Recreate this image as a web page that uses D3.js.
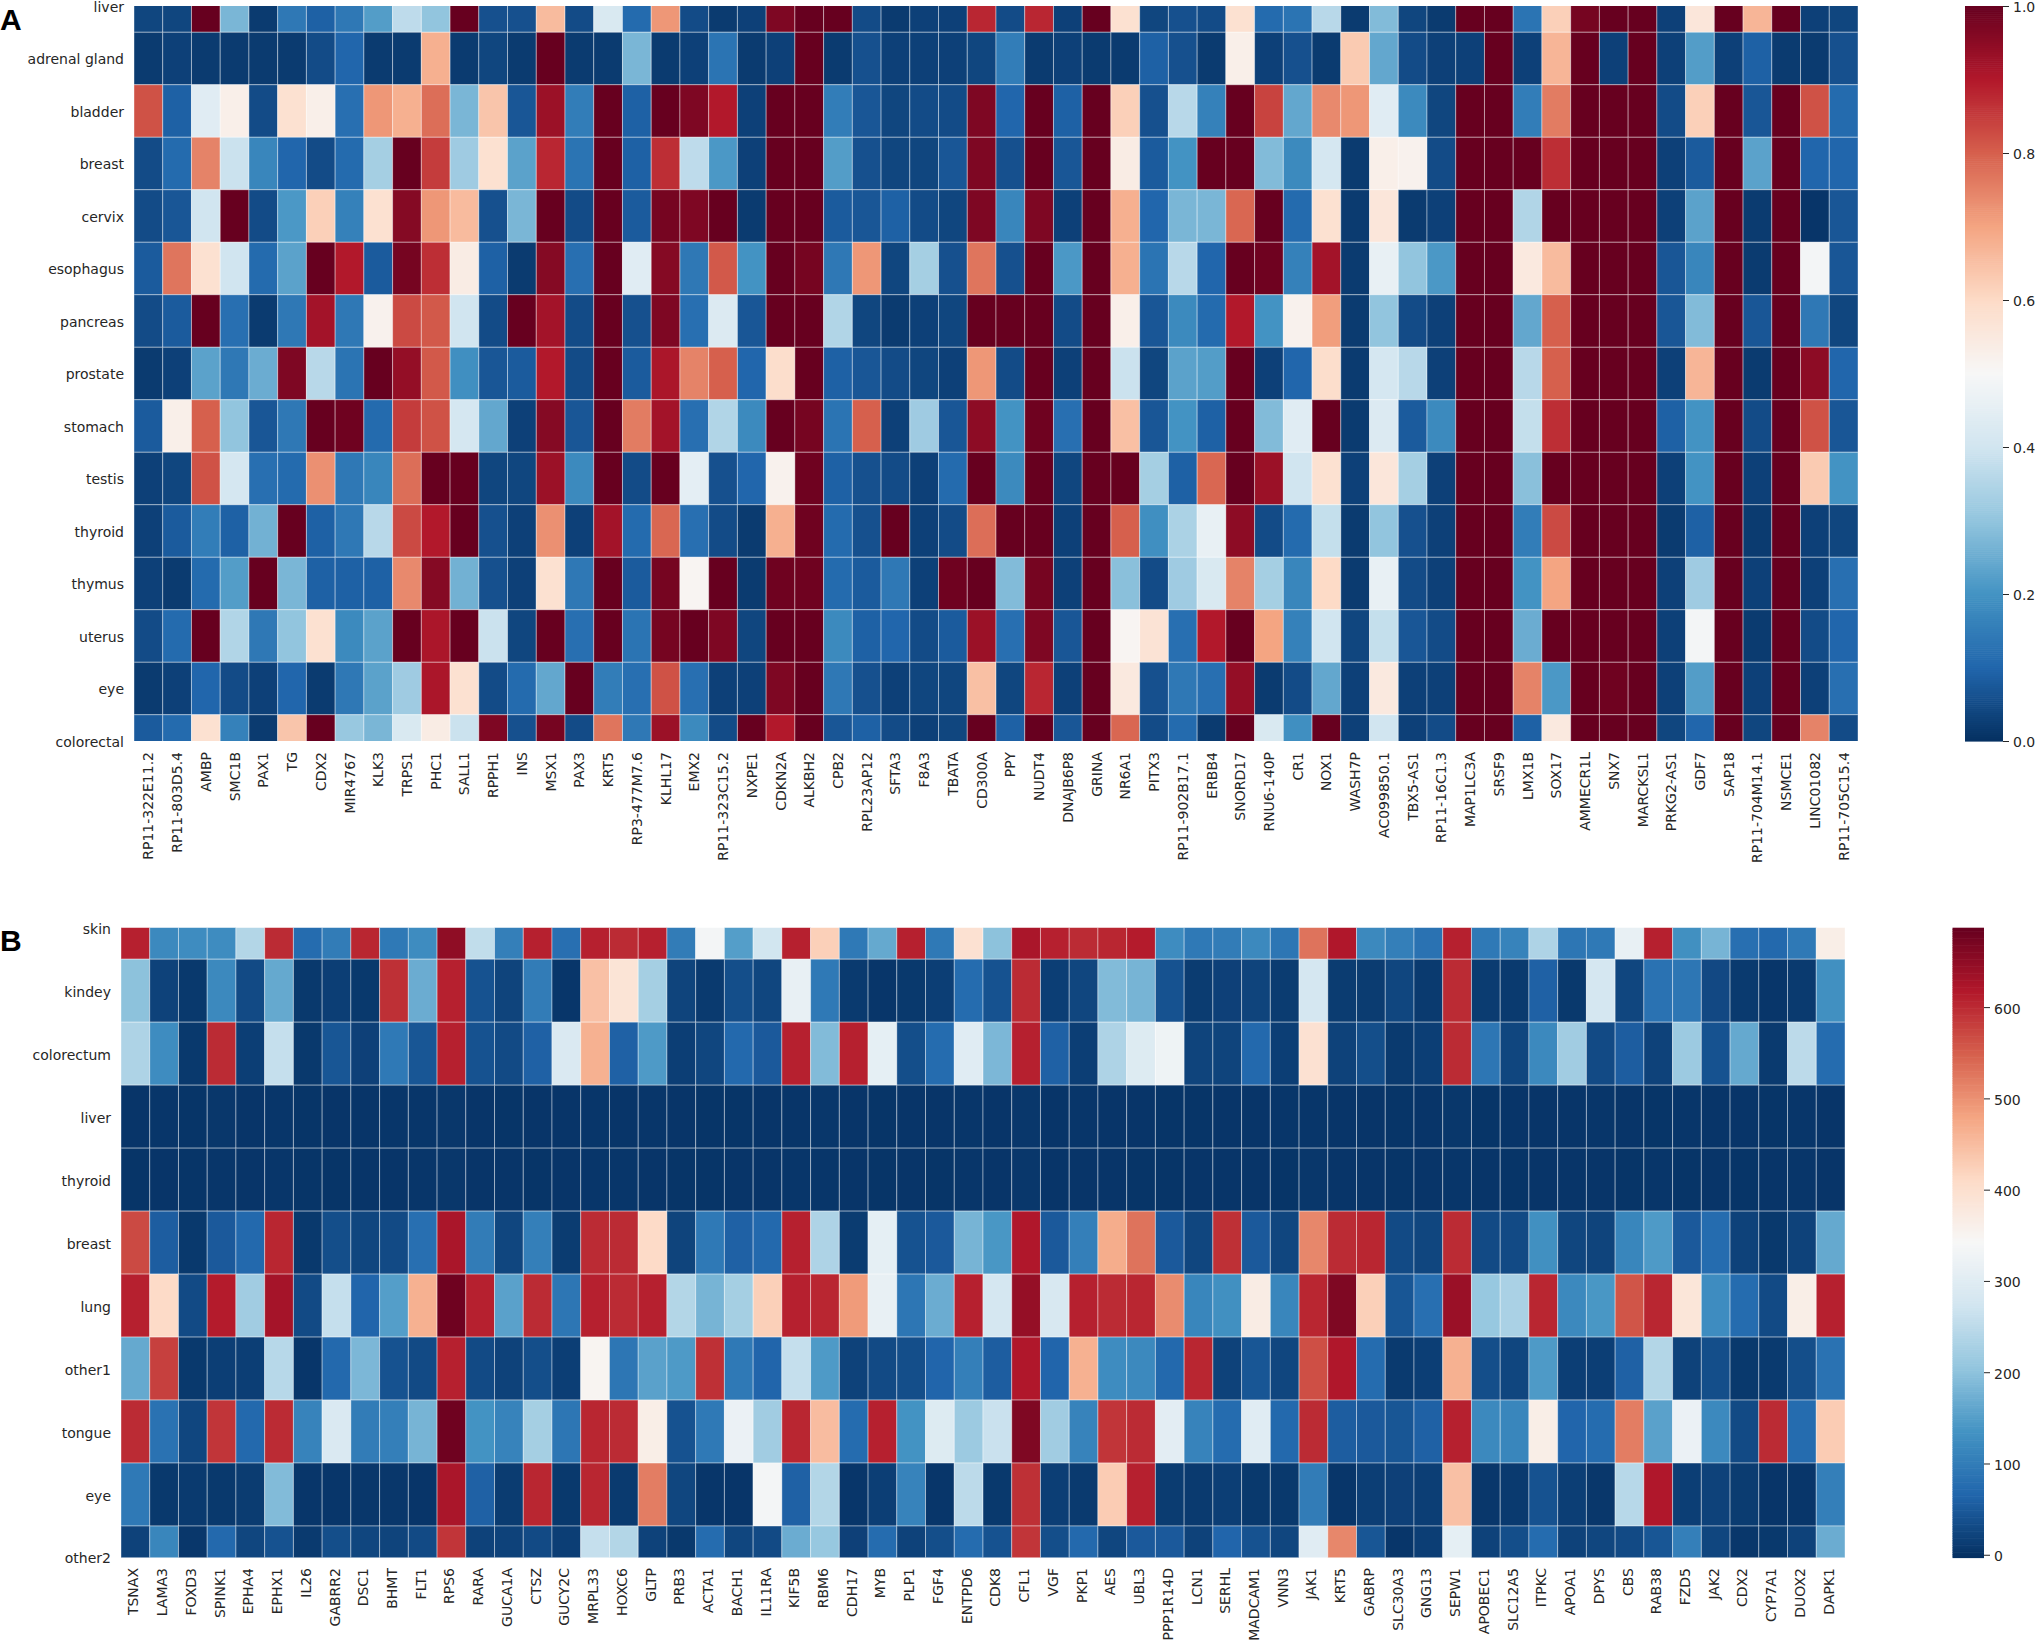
<!DOCTYPE html>
<html><head><meta charset="utf-8">
<script src="https://cdnjs.cloudflare.com/ajax/libs/d3/7.8.5/d3.min.js"></script>
<style>html,body{margin:0;padding:0;background:#fff}svg{display:block}text{font-family:"DejaVu Sans",sans-serif;fill:#262626}</style>
</head><body><svg id="c" width="2035" height="1641"></svg>
<script>
const tissuesA=["liver","adrenal gland","bladder","breast","cervix","esophagus","pancreas","prostate","stomach","testis","thyroid","thymus","uterus","eye","colorectal"];
const genesA=["RP11-322E11.2","RP11-803D5.4","AMBP","SMC1B","PAX1","TG","CDX2","MIR4767","KLK3","TRPS1","PHC1","SALL1","RPPH1","INS","MSX1","PAX3","KRT5","RP3-477M7.6","KLHL17","EMX2","RP11-323C15.2","NXPE1","CDKN2A","ALKBH2","CPB2","RPL23AP12","SFTA3","F8A3","TBATA","CD300A","PPY","NUDT4","DNAJB6P8","GRINA","NR6A1","PITX3","RP11-902B17.1","ERBB4","SNORD17","RNU6-140P","CR1","NOX1","WASH7P","AC099850.1","TBX5-AS1","RP11-16C1.3","MAP1LC3A","SRSF9","LMX1B","SOX17","AMMECR1L","SNX7","MARCKSL1","PRKG2-AS1","GDF7","SAP18","RP11-704M14.1","NSMCE1","LINC01082","RP11-705C15.4"];
const a_liver=[.04,.04,1,.27,.02,.14,.09,.14,.22,.37,.30,1,.06,.06,.66,.05,.42,.11,.72,.05,.02,.03,.97,1,1,.05,.02,.03,.03,.88,.05,.88,.03,1,.58,.04,.06,.05,.58,.11,.13,.36,.02,.28,.04,.02,1,1,.13,.62,.98,1,1,.03,.56,1,.67,1,.03,.04];
const a_adrenal=[.02,.03,.02,.02,.02,.02,.05,.10,.02,.02,.68,.02,.04,.02,1,.02,.02,.27,.02,.03,.13,.02,.03,1,.02,.06,.03,.03,.03,.04,.15,.02,.03,.02,.02,.09,.06,.02,.53,.03,.06,.02,.63,.24,.05,.03,.03,1,.03,.67,1,.03,1,.03,.22,.03,.09,.02,.02,.06];
const a_bladder=[.82,.09,.44,.53,.05,.58,.53,.12,.72,.68,.78,.27,.64,.07,.93,.15,1,.09,1,.97,.90,.03,1,1,.15,.07,.04,.05,.05,.97,.10,1,.09,1,.62,.06,.36,.16,1,.84,.24,.74,.72,.44,.18,.04,1,1,.15,.76,1,1,1,.05,.62,1,.07,1,.82,.11];
const a_breast=[.05,.11,.75,.39,.17,.10,.05,.11,.33,1,.85,.32,.58,.23,.88,.13,1,.09,.87,.37,.21,.03,1,1,.22,.06,.04,.04,.07,.97,.06,1,.07,1,.54,.08,.20,1,1,.28,.18,.41,.02,.53,.52,.05,1,1,1,.87,1,1,1,.03,.08,1,.23,1,.10,.10];
const a_cervix=[.05,.07,.40,1,.05,.21,.62,.16,.58,.96,.72,.66,.06,.27,1,.05,1,.08,.98,.97,1,.02,1,1,.08,.07,.09,.05,.04,.97,.17,.97,.03,1,.68,.10,.27,.27,.79,1,.11,.58,.02,.56,.02,.03,1,1,.35,1,1,1,1,.03,.23,1,.02,1,.01,.07];
const a_esophagus=[.08,.77,.58,.40,.11,.23,1,.90,.08,.98,.87,.54,.09,.02,.96,.12,1,.44,.96,.14,.81,.20,1,.98,.14,.72,.04,.33,.06,.77,.06,1,.21,1,.68,.13,.36,.10,1,.99,.16,.92,.02,.46,.30,.21,1,1,.55,.66,1,1,1,.07,.17,1,.02,1,.49,.07];
const a_pancreas=[.05,.08,1,.12,.02,.14,.92,.14,.52,.83,.81,.40,.05,1,.92,.05,1,.06,.97,.12,.43,.07,1,1,.35,.04,.02,.03,.04,1,1,1,.05,1,.53,.07,.18,.11,.90,.20,.52,.71,.02,.30,.05,.03,1,1,.24,.80,1,1,1,.07,.28,1,.07,1,.14,.04];
const a_prostate=[.02,.03,.23,.14,.25,.97,.36,.13,1,.94,.81,.19,.07,.08,.90,.05,1,.08,.91,.75,.80,.10,.59,1,.09,.07,.05,.04,.03,.72,.05,1,.03,1,.39,.04,.23,.22,1,.03,.10,.59,.02,.41,.36,.03,1,1,.36,.80,1,1,1,.03,.67,1,.02,1,.95,.10];
const a_stomach=[.08,.53,.80,.30,.07,.14,1,.99,.11,.85,.82,.41,.24,.03,.96,.07,1,.76,.92,.12,.35,.18,1,.98,.13,.80,.03,.32,.07,.95,.20,.99,.12,1,.65,.07,.20,.09,1,.28,.44,1,.02,.43,.08,.18,1,1,.38,.87,1,1,1,.09,.20,1,.05,1,.82,.07];
const a_testis=[.03,.04,.82,.41,.12,.11,.73,.14,.17,.78,1,1,.04,.04,.93,.18,1,.05,1,.45,.06,.10,.52,.99,.09,.06,.05,.03,.11,1,.18,1,.04,1,1,.33,.09,.79,1,.93,.40,.58,.03,.56,.33,.03,1,1,.29,1,1,1,1,.03,.20,1,.03,1,.63,.20];
const a_thyroid=[.03,.08,.15,.09,.26,1,.09,.14,.36,.83,.90,1,.06,.03,.73,.03,.92,.11,.79,.12,.05,.02,.68,.99,.11,.06,1,.03,.05,.78,1,1,.03,1,.80,.19,.34,.46,.95,.05,.11,.38,.02,.30,.06,.03,1,1,.15,.83,1,1,1,.02,.09,1,.02,1,.03,.04];
const a_thymus=[.03,.02,.11,.22,1,.27,.09,.09,.09,.74,.96,.26,.06,.03,.58,.14,1,.08,.98,.51,1,.02,.99,.99,.11,.08,.14,.03,.99,1,.28,.98,.03,1,.29,.05,.32,.42,.75,.33,.17,.60,.02,.46,.05,.03,1,1,.20,.70,1,1,1,.03,.32,1,.03,1,.03,.12];
const a_uterus=[.05,.11,1,.35,.14,.30,.58,.18,.23,1,.91,1,.39,.04,1,.12,1,.13,.98,1,.97,.04,1,1,.18,.09,.10,.05,.08,.93,.12,.97,.07,1,.51,.57,.12,.90,1,.70,.16,.40,.04,.38,.07,.05,1,1,.25,1,1,1,1,.03,.49,1,.02,1,.05,.10];
const a_eye=[.02,.03,.10,.05,.03,.10,.02,.14,.23,.32,.91,.58,.05,.11,.24,1,.15,.12,.82,.12,.03,.03,.97,1,.14,.06,.03,.04,.04,.65,.04,.88,.03,1,.55,.06,.14,.12,.94,.02,.05,.24,.03,.55,.03,.03,1,1,.75,.21,1,.99,1,.03,.22,1,.03,1,.03,.12];
const a_colorectal=[.08,.11,.58,.16,.02,.64,1,.31,.27,.42,.54,.39,.97,.06,.98,.05,.77,.14,.93,.18,.05,1,.90,1,.07,.09,.05,.03,.04,1,.09,1,.07,1,.79,.05,.11,.02,1,.42,.19,1,.03,.40,.03,.05,1,1,.09,.55,1,1,1,.04,.10,1,.04,1,.75,.05];
const matrixA=[a_liver,a_adrenal,a_bladder,a_breast,a_cervix,a_esophagus,a_pancreas,a_prostate,a_stomach,a_testis,a_thyroid,a_thymus,a_uterus,a_eye,a_colorectal];
const ticksA=[0,.2,.4,.6,.8,1];

const tissuesB=["skin","kindey","colorectum","liver","thyroid","breast","lung","other1","tongue","eye","other2"];
const genesB=["TSNAX","LAMA3","FOXD3","SPINK1","EPHA4","EPHX1","IL26","GABRR2","DSC1","BHMT","FLT1","RPS6","RARA","GUCA1A","CTSZ","GUCY2C","MRPL33","HOXC6","GLTP","PRB3","ACTA1","BACH1","IL11RA","KIF5B","RBM6","CDH17","MYB","PLP1","FGF4","ENTPD6","CDK8","CFL1","VGF","PKP1","AES","UBL3","PPP1R14D","LCN1","SERHL","MADCAM1","VNN3","JAK1","KRT5","GABRP","SLC30A3","GNG13","SEPW1","APOBEC1","SLC12A5","ITPKC","APOA1","DPYS","CBS","RAB38","FZD5","JAK2","CDX2","CYP7A1","DUOX2","DAPK1"];
const b_skin=[610,120,125,125,240,600,75,100,605,95,125,650,255,105,610,80,610,600,610,100,335,150,275,610,425,95,165,610,95,395,200,625,610,600,605,615,125,95,100,120,90,530,620,120,105,85,610,95,110,235,90,95,315,610,130,180,80,70,95,365];
const b_kindey=[200,20,8,120,30,165,8,15,8,595,170,610,40,22,100,5,445,390,225,22,10,35,25,315,95,10,5,8,15,75,40,600,15,25,190,180,40,12,18,22,12,280,12,12,25,10,600,12,10,60,8,280,25,85,90,28,10,5,10,130];
const b_colorectum=[235,125,8,600,15,260,8,45,18,95,45,610,40,30,60,290,465,60,145,15,25,70,50,610,190,610,310,35,75,300,185,610,60,15,235,295,325,22,22,70,15,395,20,35,10,15,600,90,25,120,220,30,55,20,215,40,165,10,250,75];
const b_liver=[4,5,3,6,4,5,3,4,4,5,5,6,4,3,4,4,5,4,5,4,3,3,4,4,6,4,3,4,4,5,4,6,4,5,4,4,3,3,4,4,5,5,4,4,3,4,6,3,4,4,4,5,4,3,5,4,4,3,5,4];
const b_thyroid=[3,4,3,5,4,5,3,3,4,4,5,6,4,4,3,4,5,5,4,3,3,4,4,5,5,4,3,4,3,5,4,6,4,4,4,3,3,4,4,4,3,6,4,4,3,4,5,4,3,4,4,4,3,5,3,4,3,4,5,4];
const b_breast=[570,55,8,50,70,605,8,35,25,30,80,625,100,25,105,12,600,600,410,22,95,60,70,610,235,12,310,40,50,180,140,620,50,105,470,530,50,25,595,50,25,510,600,605,30,25,600,30,30,130,25,22,115,145,50,75,20,8,20,165];
const b_lung=[610,410,30,615,220,630,30,260,65,150,465,680,610,155,600,90,610,600,610,240,180,225,425,610,605,490,315,90,170,610,280,645,285,610,600,605,505,115,130,370,115,605,665,425,45,80,640,210,230,605,120,140,560,605,385,125,75,30,365,610];
const b_other1=[165,580,8,15,15,245,5,70,185,40,30,610,30,20,35,15,350,90,155,145,595,95,65,260,145,20,30,35,65,105,55,620,65,465,125,120,70,605,20,45,25,565,620,75,10,15,465,35,25,145,15,15,60,240,20,35,8,10,35,85];
const b_tongue=[600,85,25,590,70,600,110,290,100,105,180,680,135,110,225,90,605,600,365,40,95,320,220,605,450,75,610,135,295,215,265,665,220,110,590,600,305,110,75,300,70,600,55,50,45,60,610,120,115,365,65,75,520,155,320,120,30,600,75,430];
const b_eye=[95,8,10,8,12,190,5,5,6,6,4,625,60,12,605,8,605,10,520,25,5,4,335,60,240,5,15,110,5,250,8,595,15,10,430,610,12,10,15,8,8,100,5,15,18,15,445,6,10,40,15,6,245,620,15,20,12,4,5,105];
const b_other2=[20,115,6,70,25,40,10,35,25,22,30,590,20,20,30,15,260,240,20,8,75,25,30,170,210,18,75,20,35,75,40,590,35,70,25,50,50,20,65,40,25,300,510,45,5,15,310,20,35,75,20,25,30,45,105,25,6,8,20,170];
const matrixB=[b_skin,b_kindey,b_colorectum,b_liver,b_thyroid,b_breast,b_lung,b_other1,b_tongue,b_eye,b_other2];
const ticksB=[0,100,200,300,400,500,600];

const rdbu=["#053061","#2166ac","#4393c3","#92c5de","#d1e5f0","#f7f7f7","#fddbc7","#f4a582","#d6604d","#b2182b","#67001f"];
const svg=d3.select("#c");

function heatmap(id,o){
  const g=svg.append("g");
  const n=o.rows.length, h=(o.bottom-o.top)/(n-1);
  const x=d3.scaleBand().domain(o.cols).range([o.left,o.right]);
  // seaborn cut: first and last row are half hidden
  const y=d3.scaleBand().domain(o.rows).range([o.top-h/2,o.bottom+h/2]);
  const color=d3.scaleLinear().domain(d3.range(11).map(i=>o.vmin+(o.vmax-o.vmin)*i/10)).range(rdbu).clamp(true);
  const clip="clip"+id;
  svg.append("clipPath").attr("id",clip).append("rect").attr("x",o.left).attr("y",o.top).attr("width",o.right-o.left).attr("height",o.bottom-o.top);
  const cells=o.matrix.flatMap((r,i)=>r.map((v,j)=>({row:o.rows[i],col:o.cols[j],v})));
  g.append("g").attr("clip-path",`url(#${clip})`).selectAll("rect").data(cells).join("rect")
    .attr("x",d=>x(d.col)).attr("y",d=>y(d.row)).attr("width",x.bandwidth()).attr("height",y.bandwidth())
    .attr("fill",d=>color(d.v)).attr("stroke","#fff").attr("stroke-opacity",.4).attr("stroke-width",1);
  const ax=g.append("g").attr("transform",`translate(0,${o.bottom})`).call(d3.axisBottom(x).tickSize(0));
  ax.select(".domain").remove();
  ax.selectAll("text").attr("transform",null).attr("text-anchor","end").attr("dy",null)
    .attr("transform",d=>`translate(${o.labelDx},${o.xLabelY-o.bottom}) rotate(-90)`)
    .attr("x",0).attr("y",0).attr("dominant-baseline","central").style("font-size","14px").style("font-family",'"DejaVu Sans"');
  const ay=g.append("g").attr("transform",`translate(${o.left},1.5)`).call(d3.axisLeft(y).tickSize(0).tickPadding(10));
  ay.select(".domain").remove();
  ay.selectAll("text").style("font-size","14px").style("font-family",'"DejaVu Sans"');
  // colour bar
  const cs=d3.scaleLinear().domain([o.vmin,o.vmax]).range([o.bottom,o.top]);
  const steps=d3.range(0,360);
  g.append("g").selectAll("rect").data(steps).join("rect")
    .attr("x",o.cbLeft).attr("width",o.cbRight-o.cbLeft)
    .attr("y",i=>cs(o.vmin+(o.vmax-o.vmin)*(i+1)/360)).attr("height",(o.bottom-o.top)/360+.6)
    .attr("fill",i=>color(o.vmin+(o.vmax-o.vmin)*(i+.5)/360));
  const ac=g.append("g").attr("transform",`translate(${o.cbRight},0)`).call(d3.axisRight(cs).tickValues(o.ticks).tickFormat(o.fmt).tickSize(6).tickPadding(4));
  ac.select(".domain").remove();
  ac.selectAll("line").attr("stroke","#262626");
  ac.selectAll("text").attr("y",1.5).style("font-size","14px").style("font-family",'"DejaVu Sans"');
}
heatmap("A",{rows:tissuesA,cols:genesA,matrix:matrixA,left:134,right:1858,top:6,bottom:741,vmin:0,vmax:1,ticks:ticksA,fmt:d3.format(".1f"),cbLeft:1965,cbRight:2003,xLabelY:752,labelDx:0});
heatmap("B",{rows:tissuesB,cols:genesB,matrix:matrixB,left:121,right:1845,top:927.7,bottom:1557.5,vmin:-3,vmax:687,ticks:ticksB,fmt:d3.format("d"),cbLeft:1952.5,cbRight:1984,xLabelY:1568,labelDx:-2});
const panels=["A","B"], panelY=[30,951];
svg.selectAll("text.panel").data(panels).join("text").attr("class","panel").text(d=>d)
  .attr("x",0).attr("y",(d,i)=>panelY[i]).style("font-family",'"Liberation Sans"').style("font-weight","bold").style("font-size","30px").style("fill","#000");
</script></body></html>
